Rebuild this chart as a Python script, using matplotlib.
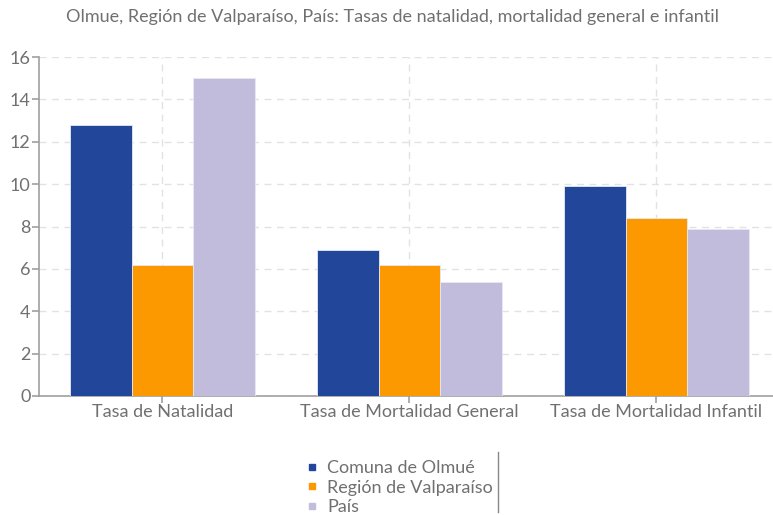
import numpy as np
import matplotlib
matplotlib.use("Agg")
import matplotlib.pyplot as plt
from matplotlib.lines import Line2D

categories = ["Tasa de Natalidad", "Tasa de Mortalidad General", "Tasa de Mortalidad Infantil"]
series_names = ["Comuna de Olmué", "Región de Valparaíso", "País"]
olmue = [12.8, 6.9, 9.9]
valparaiso = [6.2, 6.2, 8.4]
pais = [15.0, 5.4, 7.9]
yticks = [0, 2, 4, 6, 8, 10, 12, 14, 16]

colors = ["#224699", "#fd9900", "#c1bcdc"]
text_col = "#707070"
axis_col = "#a0a0a0"

plt.rcParams['font.family'] = ['Lato', 'DejaVu Sans']
fs = 13

fig = plt.figure(figsize=(7.73, 5.15), dpi=100)
ax = fig.add_axes([39 / 773, 119 / 515, 741 / 773, 339 / 515])

x = np.arange(len(categories))
w = 0.25
for i, (vals, c, name) in enumerate(zip([olmue, valparaiso, pais], colors, series_names)):
    ax.bar(x + (i - 1) * w, vals, width=w, color=c, edgecolor="#e6e9f4",
           linewidth=0.6, label=name, zorder=3)

ax.set_xlim(-0.5, 2.5)
ax.set_ylim(0, 16)
ax.set_yticks(yticks)
ax.set_xticks(x)
ax.set_xticklabels(categories)

ax.grid(True, color="#e2e2e2", linestyle=(0, (5, 4)), linewidth=1, zorder=0)
for s in ["top", "right"]:
    ax.spines[s].set_visible(False)
for s in ["left", "bottom"]:
    ax.spines[s].set_color(axis_col)
    ax.spines[s].set_linewidth(1.2)
ax.tick_params(axis="both", colors=axis_col, labelcolor=text_col, labelsize=fs,
               length=5, width=1.2)
ax.tick_params(axis="x", pad=1)
ax.tick_params(axis="y", pad=1)

fig.suptitle("Olmue, Región de Valparaíso, País: Tasas de natalidad, mortalidad general e infantil",
             x=0.508, y=0.982, color=text_col, fontsize=fs, va="top")

handles = [Line2D([], [], marker="s", color=c, linestyle="none", markersize=5)
           for c in colors]
leg = fig.legend(handles, series_names, loc="upper left", bbox_to_anchor=(298 / 773, 1 - 451 / 515),
                 frameon=False, fontsize=fs, labelcolor=text_col, handlelength=0.6,
                 handletextpad=0.5, labelspacing=0.2, borderpad=0)

# right edge of the legend box
fig.add_artist(Line2D([498 / 773, 498 / 773], [1 - 452 / 515, 1 - 512 / 515],
                      transform=fig.transFigure, color="#888888", linewidth=1))

fig.savefig("out.png", dpi=100)
